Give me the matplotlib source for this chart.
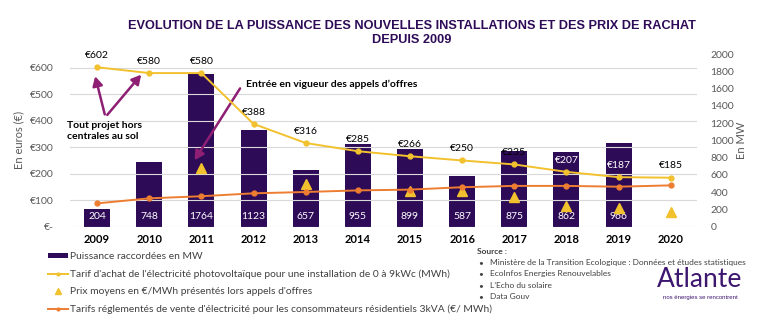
import numpy as np
import matplotlib
matplotlib.use('Agg')
import matplotlib.pyplot as plt
from matplotlib.lines import Line2D
from matplotlib.patches import Patch

plt.rcParams['font.family'] = ['Lato', 'DejaVu Sans']

annees = ['2009', '2010', '2011', '2012', '2013', '2014', '2015', '2016',
          '2017', '2018', '2019', '2020']
puissance_mw = [204, 748, 1764, 1123, 657, 955, 899, 587, 875, 862, 966, None]
tarif_achat = [602, 580, 580, 388, 316, 285, 266, 250, 235, 207, 187, 185]
prix_ao = [None, None, 220, None, 161, None, 135, 135, 111, 79, 72, 57]
tarif_regl = [88, 107, 115, 126, 131, 137, 140, 149, 154, 154, 151, 156]

VIOLET = "#2E0B57"
JAUNE = "#F2C12E"
ORANGE = "#ED7D31"
FLECHE = "#8E1F74"
GRIS = "#595959"

x = np.arange(len(annees))
fig = plt.figure(figsize=(7.82, 3.34), dpi=100)
ax2 = fig.add_axes([0.0895, 0.3213, 0.8015, 0.517])  # axe MW (barres)
ax = ax2.twinx()
ax.yaxis.tick_left()
ax.yaxis.set_label_position('left')
ax2.yaxis.tick_right()
ax2.yaxis.set_label_position('right')

# barres
mw = np.array([np.nan if v is None else v for v in puissance_mw], dtype=float)
ax2.bar(x, mw, width=0.5, color=VIOLET, zorder=2)
for xi, v in zip(x, puissance_mw):
    if v is not None:
        ax2.annotate(str(v), (xi, 0), xytext=(0, 7), textcoords='offset points',
                     ha='center', va='center', color='white', fontsize=7.5)

# lignes
ax.plot(x, tarif_achat, color=JAUNE, lw=1.4, marker='o', ms=3.5, zorder=4)
pao = np.array([np.nan if v is None else v for v in prix_ao], dtype=float)
ax.plot(x, pao, ls='none', marker='^', ms=7, color=JAUNE, zorder=4)
ax.plot(x, tarif_regl, color=ORANGE, lw=1.4, marker='o', ms=3.5, zorder=4)

for xi, v in zip(x, tarif_achat):
    col = 'white' if annees[xi] in ('2018', '2019') else 'black'
    ax.annotate(f"€{v}", (xi, v), xytext=(0, 8.5), textcoords='offset points',
                ha='center', va='center', color=col, fontsize=7.5)

ax.set_ylim(0, 652)
ax2.set_ylim(0, 2000)
ax.set_xlim(-0.52, 11.5)
ax.set_yticks(np.arange(0, 700, 100))
ax.set_yticklabels(['€-'] + [f"€{v}" for v in range(100, 700, 100)])
ax2.set_yticks(np.arange(0, 2200, 200))
ax2.set_xticks(x)
ax2.set_xticklabels(annees, fontsize=8, fontweight='bold')
ax.tick_params(axis='y', length=0, labelsize=7.5, labelcolor=GRIS, pad=12)
ax2.tick_params(axis='y', length=0, labelsize=7.5, labelcolor=GRIS, pad=10)
ax2.tick_params(axis='x', length=0, pad=5)
ax.grid(axis='y', color='#D9D9D9', lw=0.8, zorder=0)
ax.set_axisbelow(True)
ax2.set_zorder(0)
ax.set_zorder(1)
ax.patch.set_visible(False)
for a in (ax, ax2):
    for s in a.spines.values():
        s.set_visible(False)
ax.set_ylabel("En euros (€)", color=GRIS, fontsize=8, labelpad=4)
ax2.set_ylabel("En MW", color=GRIS, fontsize=8, labelpad=1)

# annotations
ax.text(-0.57, 400, "Tout projet hors\ncentrales au sol", fontsize=7.5,
        fontweight='bold', ha='left', va='top', linespacing=1.3)
fl = dict(arrowstyle='-|>,head_length=0.55,head_width=0.3', color=FLECHE, lw=1.8)
ax.annotate("", xy=(-0.05, 578), xytext=(0.16, 414), arrowprops=fl)
ax.annotate("", xy=(0.88, 582), xytext=(0.16, 414), arrowprops=fl)
ax.annotate("", xy=(1.84, 242), xytext=(2.77, 531), arrowprops=fl)
ax.text(2.85, 538, "Entrée en vigueur des appels d’offres", fontsize=7.5,
        fontweight='bold', ha='left', va='center')

fig.text(0.527, 0.901, "EVOLUTION DE LA PUISSANCE DES NOUVELLES INSTALLATIONS ET DES PRIX DE RACHAT\nDEPUIS 2009",
         ha='center', va='center', fontsize=9.2, fontweight='bold', color=VIOLET,
         family=['Liberation Sans'], linespacing=1.3)

# légende
poignees = [
    Patch(facecolor=VIOLET, edgecolor='none'),
    Line2D([], [], color=JAUNE, lw=1.4, marker='o', ms=2),
    Line2D([], [], ls='none', color=JAUNE, marker='^', ms=5),
    Line2D([], [], color=ORANGE, lw=1.4, marker='o', ms=2),
]
libelles = [
    "Puissance raccordées en MW",
    "Tarif d'achat de l'électricité photovoltaïque pour une installation de 0 à 9kWc (MWh)",
    "Prix moyens en €/MWh présentés lors appels d'offres",
    "Tarifs réglementés de vente d'électricité pour les consommateurs résidentiels 3kVA (€/ MWh)",
]
leg = ax.legend(poignees, libelles, loc='upper left', bbox_to_anchor=(0.062, 0.245),
                bbox_transform=fig.transFigure, frameon=False, fontsize=7.4,
                handlelength=1.9, handletextpad=0.2, labelspacing=0.8,
                handleheight=0.45, borderaxespad=0, borderpad=0)
for t in leg.get_texts():
    t.set_color('#404040')

# sources
fig.text(0.61, 0.248, "Source :", fontsize=6, fontweight='bold', color='#404040',
         va='center')
sources = ["Ministère de la Transition Ecologique : Données et études statistiques",
           "EcoInfos Energies Renouvelables", "L’Echo du solaire", "Data Gouv"]
for i, s in enumerate(sources):
    yy = 0.214 - i * 0.034
    fig.text(0.612, yy, "•", fontsize=6, color='#404040', va='center')
    fig.text(0.627, yy, s, fontsize=6, color='#404040', va='center')

fig.text(0.895, 0.163, "Atlante", fontsize=19, color="#3D1670", ha='center',
         va='center')
fig.text(0.896, 0.108, "nos énergies se rencontrent", fontsize=4.3,
         color="#3D1670", ha='center', va='center', family=['Liberation Sans'])

fig.savefig("out.png", dpi=100)
